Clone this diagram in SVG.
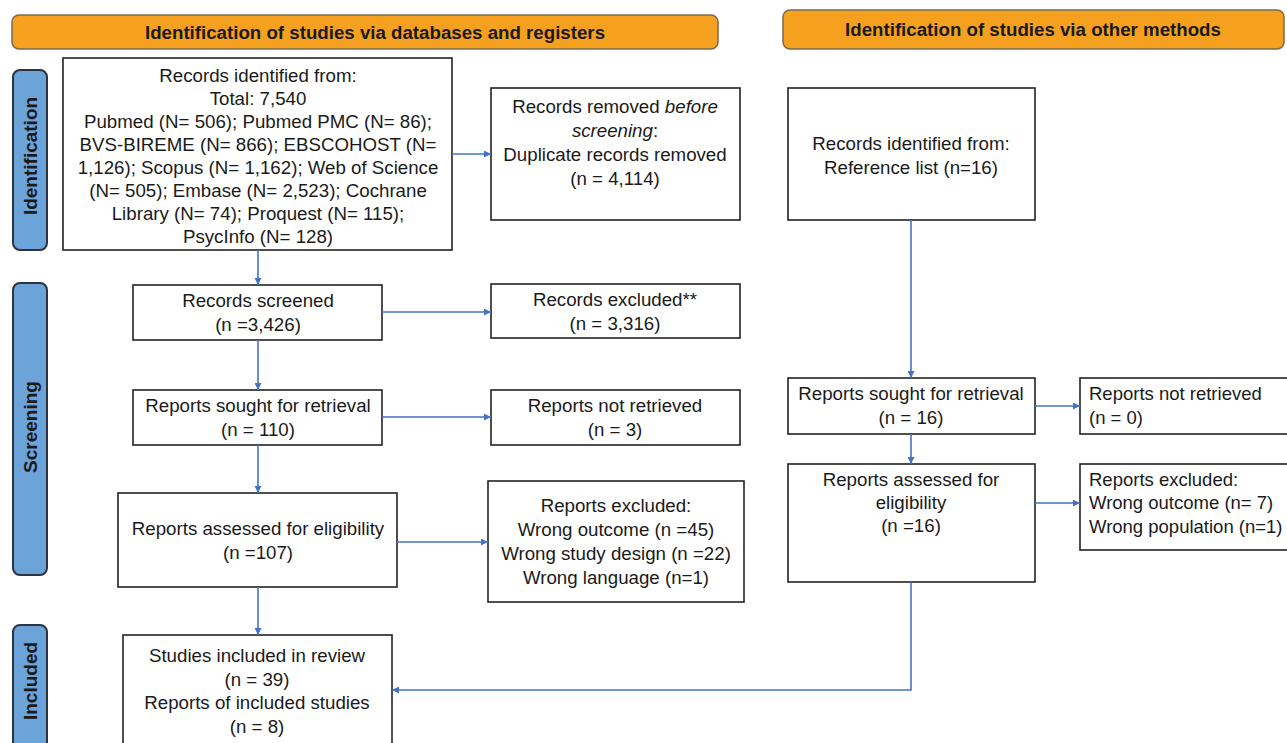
<svg xmlns="http://www.w3.org/2000/svg" width="1287" height="743" viewBox="0 0 1287 743">
<defs>
<style>
.hdr{fill:#F5A11F;stroke:#7a6a50;stroke-width:1.5}
.side{fill:#6CA3D8;stroke:#2c3440;stroke-width:2}
.box{fill:#fff;stroke:#222;stroke-width:1.6}
.t{font-family:"Liberation Sans",Arial,sans-serif;font-size:18.7px;fill:#1a1a1a;text-anchor:middle}
.tl{font-family:"Liberation Sans",Arial,sans-serif;font-size:18.5px;fill:#1a1a1a;text-anchor:start}
.ht{font-family:"Liberation Sans",Arial,sans-serif;font-size:18.7px;font-weight:bold;fill:#1a1a1a;text-anchor:middle}
.st{font-family:"Liberation Sans",Arial,sans-serif;font-size:19px;font-weight:bold;fill:#1a1a1a;text-anchor:middle}
.c{fill:none;stroke:#4472C4;stroke-width:1.6}
</style>
<marker id="ah" viewBox="0 0 10 10" refX="10" refY="5" markerWidth="7" markerHeight="7" markerUnits="userSpaceOnUse" orient="auto">
<path d="M0,0 L10,5 L0,10 z" fill="#4472C4"/>
</marker>
</defs>
<rect width="1287" height="743" fill="#fff"/>

<g id="hdr-left"><rect class="hdr" x="12" y="15" width="706" height="34" rx="7"/><text class="ht" x="375" y="38.5">Identification of studies via databases and registers</text></g>
<g id="hdr-right"><rect class="hdr" x="783" y="10" width="501" height="39" rx="7"/><text class="ht" x="1033" y="36">Identification of studies via other methods</text></g>

<g id="side-identification"><rect class="side" x="13" y="70" width="34" height="180" rx="7"/><text class="st" transform="translate(37,156) rotate(-90)">Identification</text></g>
<g id="side-screening"><rect class="side" x="13" y="283" width="34" height="292" rx="7"/><text class="st" transform="translate(37,427) rotate(-90)">Screening</text></g>
<g id="side-included"><rect class="side" x="13" y="625" width="34" height="130" rx="7"/><text class="st" transform="translate(37,681) rotate(-90)">Included</text></g>

<g id="n-identified">
<rect class="box" x="63" y="58" width="389" height="192"/>
<text class="t" x="258" y="82">Records identified from:</text>
<text class="t" x="258" y="105">Total: 7,540</text>
<text class="t" x="258" y="128">Pubmed (N= 506); Pubmed PMC (N= 86);</text>
<text class="t" x="258" y="151">BVS-BIREME (N= 866); EBSCOHOST (N=</text>
<text class="t" x="258" y="174">1,126); Scopus (N= 1,162); Web of Science</text>
<text class="t" x="258" y="197">(N= 505); Embase (N= 2,523); Cochrane</text>
<text class="t" x="258" y="220">Library (N= 74); Proquest (N= 115);</text>
<text class="t" x="258" y="243">PsycInfo (N= 128)</text>
</g>
<g id="n-removed">
<rect class="box" x="491" y="88" width="249" height="132"/>
<text class="t" x="615" y="113">Records removed <tspan font-style="italic">before</tspan></text>
<text class="t" x="615" y="137"><tspan font-style="italic">screening</tspan>:</text>
<text class="t" x="615" y="161">Duplicate records removed</text>
<text class="t" x="615" y="185">(n = 4,114)</text>
</g>
<g id="n-other-identified">
<rect class="box" x="788" y="88" width="247" height="132"/>
<text class="t" x="911" y="150">Records identified from:</text>
<text class="t" x="911" y="174">Reference list (n=16)</text>
</g>
<g id="n-screened">
<rect class="box" x="133" y="285" width="249" height="55"/>
<text class="t" x="258" y="307">Records screened</text>
<text class="t" x="258" y="331">(n =3,426)</text>
</g>
<g id="n-excluded">
<rect class="box" x="491" y="284" width="249" height="54"/>
<text class="t" x="615" y="306">Records excluded**</text>
<text class="t" x="615" y="330">(n = 3,316)</text>
</g>
<g id="n-sought">
<rect class="box" x="133" y="390" width="249" height="55"/>
<text class="t" x="258" y="412">Reports sought for retrieval</text>
<text class="t" x="258" y="436">(n = 110)</text>
</g>
<g id="n-notretrieved">
<rect class="box" x="491" y="390" width="249" height="55"/>
<text class="t" x="615" y="412">Reports not retrieved</text>
<text class="t" x="615" y="436">(n = 3)</text>
</g>
<g id="n-assessed">
<rect class="box" x="118" y="493" width="279" height="94"/>
<text class="t" x="258" y="535">Reports assessed for eligibility</text>
<text class="t" x="258" y="559">(n =107)</text>
</g>
<g id="n-repexcluded">
<rect class="box" x="488" y="481" width="256" height="121"/>
<text class="t" x="616" y="512">Reports excluded:</text>
<text class="t" x="616" y="536">Wrong outcome (n =45)</text>
<text class="t" x="616" y="560">Wrong study design (n =22)</text>
<text class="t" x="616" y="584">Wrong language (n=1)</text>
</g>
<g id="n-included">
<rect class="box" x="123" y="635" width="269" height="115"/>
<text class="t" x="257" y="662">Studies included in review</text>
<text class="t" x="257" y="686">(n = 39)</text>
<text class="t" x="257" y="709">Reports of included studies</text>
<text class="t" x="257" y="733">(n = 8)</text>
</g>
<g id="n-other-sought">
<rect class="box" x="788" y="378" width="247" height="56"/>
<text class="t" x="911" y="400">Reports sought for retrieval</text>
<text class="t" x="911" y="424">(n = 16)</text>
</g>
<g id="n-other-notretrieved">
<rect class="box" x="1080" y="378" width="210" height="56"/>
<text class="tl" x="1089" y="400">Reports not retrieved</text>
<text class="tl" x="1089" y="424">(n = 0)</text>
</g>
<g id="n-other-assessed">
<rect class="box" x="788" y="464" width="247" height="118"/>
<text class="t" x="911" y="486">Reports assessed for</text>
<text class="t" x="911" y="509">eligibility</text>
<text class="t" x="911" y="532">(n =16)</text>
</g>
<g id="n-other-excluded">
<rect class="box" x="1080" y="464" width="210" height="86"/>
<text class="tl" x="1089" y="486">Reports excluded:</text>
<text class="tl" x="1089" y="509">Wrong outcome (n= 7)</text>
<text class="tl" x="1089" y="533">Wrong population (n=1)</text>
</g>

<g id="connectors">
<path class="c" d="M258,250 V285" marker-end="url(#ah)"/>
<path class="c" d="M452,154 H491" marker-end="url(#ah)"/>
<path class="c" d="M382,312 H491" marker-end="url(#ah)"/>
<path class="c" d="M258,340 V390" marker-end="url(#ah)"/>
<path class="c" d="M382,417 H491" marker-end="url(#ah)"/>
<path class="c" d="M258,445 V493" marker-end="url(#ah)"/>
<path class="c" d="M397,542 H488" marker-end="url(#ah)"/>
<path class="c" d="M258,587 V635" marker-end="url(#ah)"/>
<path class="c" d="M911,220 V378" marker-end="url(#ah)"/>
<path class="c" d="M1035,406 H1080" marker-end="url(#ah)"/>
<path class="c" d="M911,434 V464" marker-end="url(#ah)"/>
<path class="c" d="M1035,503 H1080" marker-end="url(#ah)"/>
<path class="c" d="M911,582 V690 H392" marker-end="url(#ah)"/>
</g>
</svg>
